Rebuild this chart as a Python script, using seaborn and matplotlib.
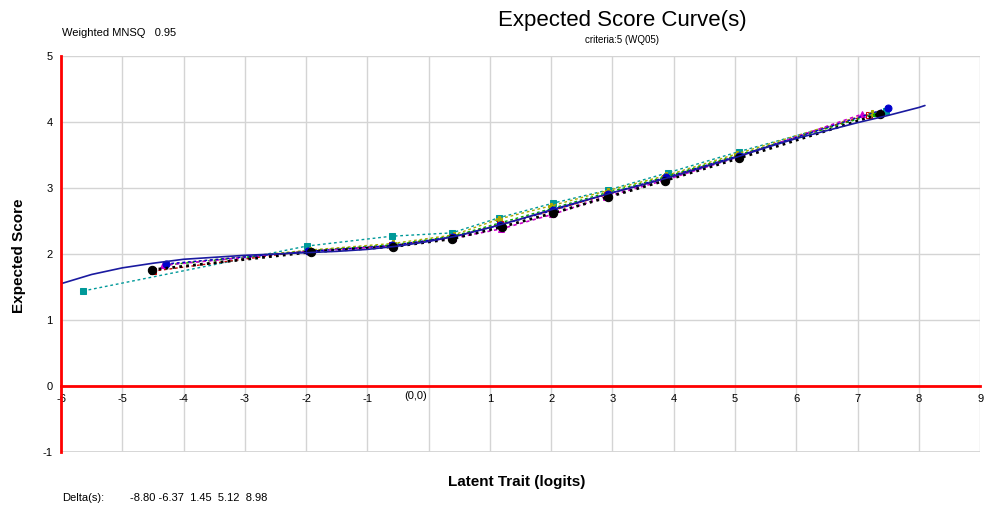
#!/usr/bin/env python3

import pandas as pd
import matplotlib.pyplot as plt
import seaborn as sns
import numpy as np

sns.set_style("whitegrid")
plt.rcParams['font.family'] = ['Liberation Sans', 'DejaVu Sans']
plt.rcParams['axes.unicode_minus'] = False
plt.rcParams['text.color'] = 'black'

# model expected score curve
model_x = [-6.0, -5.5, -5.0, -4.5, -4.0, -3.5, -3.0, -2.5, -2.0, -1.5, -1.0, -0.5, 0.0, 0.5, 1.0,
           1.5, 2.0, 2.5, 3.0, 3.5, 4.0, 4.5, 5.0, 5.5, 6.0, 6.5, 7.0, 7.5, 8.0, 8.1]
model_y = [1.55, 1.69, 1.79, 1.86, 1.92, 1.95, 1.98, 2.00, 2.02, 2.04, 2.07, 2.12, 2.19, 2.28, 2.40,
           2.53, 2.67, 2.80, 2.93, 3.05, 3.18, 3.32, 3.46, 3.61, 3.75, 3.87, 3.99, 4.10, 4.22, 4.25]

# observed class-interval means per group
teal_x = [-5.64, -1.99, -0.60, 0.38, 1.15, 2.03, 2.93, 3.90, 5.06, 7.46]
teal_y = [1.44, 2.12, 2.27, 2.32, 2.55, 2.77, 2.97, 3.23, 3.55, 4.17]
black_x = [-4.52, -1.92, -0.58, 0.38, 1.19, 2.03, 2.92, 3.85, 5.06, 7.36]
black_y = [1.76, 2.03, 2.11, 2.23, 2.41, 2.62, 2.86, 3.11, 3.45, 4.12]
magenta_x = [-4.34, -1.95, -0.60, 0.40, 1.18, 2.02, 2.90, 3.86, 5.05, 7.08]
magenta_y = [1.83, 2.04, 2.12, 2.24, 2.38, 2.60, 2.87, 3.12, 3.47, 4.12]
red_x = [-4.50, -1.96, -0.59, 0.39, 1.17, 2.02, 2.91, 3.86, 5.05, 7.18]
red_y = [1.74, 2.05, 2.13, 2.26, 2.45, 2.66, 2.90, 3.15, 3.49, 4.11]
olive_x = [-4.30, -1.94, -0.58, 0.41, 1.15, 2.00, 2.92, 3.88, 5.04, 7.23]
olive_y = [1.84, 2.06, 2.16, 2.29, 2.53, 2.73, 2.96, 3.19, 3.52, 4.14]
green_x = [-4.32, -1.93, -0.57, 0.40, 1.16, 2.01, 2.91, 3.87, 5.05, 7.28]
green_y = [1.83, 2.05, 2.14, 2.27, 2.47, 2.69, 2.93, 3.17, 3.50, 4.12]
blue_x = [-4.29, -1.97, -0.59, 0.39, 1.17, 2.03, 2.92, 3.87, 5.06, 7.49]
blue_y = [1.85, 2.04, 2.13, 2.26, 2.44, 2.66, 2.91, 3.16, 3.49, 4.21]

deltas = ['-8.80', '-6.37', '1.45', '5.12', '8.98']
x_ticks = list(range(-6, 10))
y_ticks = list(range(-1, 6))

fig = plt.figure(figsize=(9.84, 5.12), dpi=100)
ax = fig.add_axes([0.062, 0.1172, 0.934, 0.7734])

groups = [
    (teal_x, teal_y, '#009999', 's', (0, (2, 2)), 1.0, 5),
    (red_x, red_y, '#cc0000', 's', (0, (2, 2)), 1.0, 5),
    (olive_x, olive_y, '#aaaa00', 'P', (0, (2, 2)), 1.0, 5),
    (green_x, green_y, '#00aa00', '^', (0, (2, 2)), 1.0, 3),
    (magenta_x, magenta_y, '#cc00cc', '^', (0, (2, 2)), 1.2, 5),
    (blue_x, blue_y, '#0000cc', 'o', (0, (2, 2)), 1.0, 5),
    (black_x, black_y, 'black', 'o', (0, (1, 1.5)), 2.0, 6),
]
for gx, gy, col, mk, ls, lw, ms in groups:
    mfc = 'none' if col == '#cc0000' else col
    sns.lineplot(x=gx, y=gy, ax=ax, color=col, marker=mk, linestyle=ls, linewidth=lw,
                 markersize=ms, markerfacecolor=mfc, markeredgecolor=col,
                 sort=False, estimator=None, legend=False)

sns.lineplot(x=model_x, y=model_y, ax=ax, color='#1a1aa0', linewidth=1.2,
             sort=False, estimator=None, legend=False)

ax.set_xlim(-6, 9)
ax.set_ylim(-1, 5)
ax.set_xticks(x_ticks)
ax.set_yticks(y_ticks)
ax.set_xticklabels(['' if t == 0 else str(t) for t in x_ticks])
ax.grid(True, color='#d4d4d4', linewidth=1)

for side in ['top', 'right']:
    ax.spines[side].set_visible(False)
ax.spines['bottom'].set_position(('data', 0))
ax.spines['bottom'].set_color('red')
ax.spines['bottom'].set_linewidth(2)
ax.spines['left'].set_color('red')
ax.spines['left'].set_linewidth(2)
ax.axhline(-1, color='#d4d4d4', linewidth=2, zorder=0)
ax.tick_params(axis='both', colors='red', direction='out', length=4, width=2,
               labelsize=8, labelcolor='black', pad=2)
ax.text(-0.22, -0.08, '(0,0)', ha='center', va='top', fontsize=8)

fig.text(0.525, 0.058, 'Latent Trait (logits)', ha='center', va='center',
         fontsize=11, fontweight='bold')
fig.text(0.019, 0.5, 'Expected Score', ha='center', va='center', rotation=90,
         fontsize=11, fontweight='bold')

fig.text(0.632, 0.96, 'Expected Score Curve(s)', ha='center', va='center', fontsize=16)
fig.text(0.632, 0.921, 'criteria:5 (WQ05)', ha='center', va='center', fontsize=7)
fig.text(0.063, 0.935, 'Weighted MNSQ   0.95', ha='left', va='center', fontsize=8)
fig.text(0.063, 0.027, 'Delta(s):', ha='left', va='center', fontsize=8)
fig.text(0.132, 0.027, '-8.80 -6.37  ' + '  '.join(deltas[2:]), ha='left', va='center',
         fontsize=8)

plt.savefig('out.png', dpi=100)
plt.close()
